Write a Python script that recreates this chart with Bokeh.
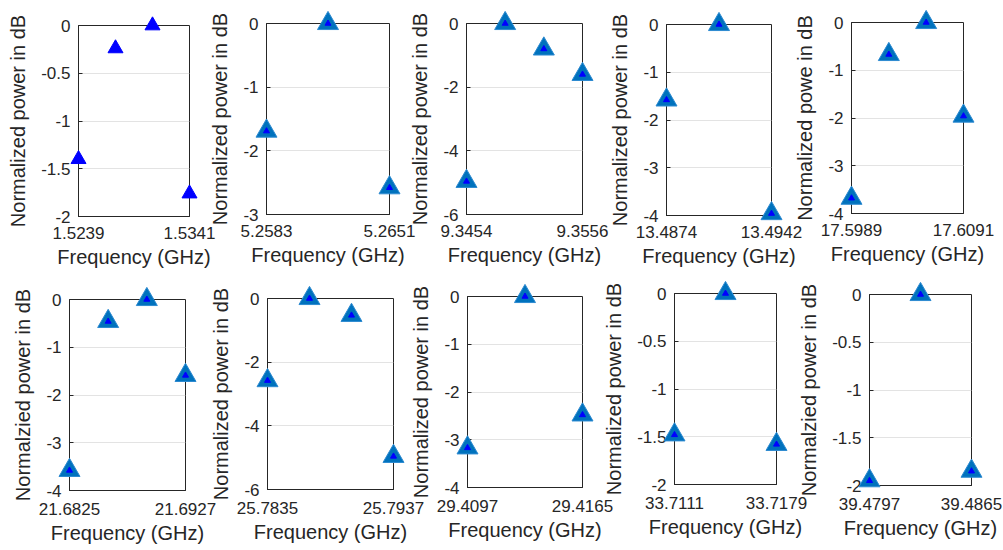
from bokeh.plotting import figure
from bokeh.layouts import row, column
from bokeh.models import FixedTicker, PrintfTickFormatter, CustomJSTickFormatter, Range1d
from bokeh.embed import file_html
from bokeh.resources import INLINE

# ---- data (frequency in GHz, normalized power in dB) ----
freq_1 = [1.5239, 1.5273, 1.5307, 1.5341]
power_1 = [-1.40, -0.24, 0.0, -1.76]
freq_2 = [5.2583, 5.2617, 5.2651]
power_2 = [-1.69, 0.0, -2.58]
freq_3 = [9.3454, 9.3488, 9.3522, 9.3556]
power_3 = [-4.96, 0.0, -0.80, -1.60]
freq_4 = [13.4874, 13.4908, 13.4942]
power_4 = [-1.58, 0.0, -3.96]
freq_5 = [17.5989, 17.6023, 17.6057, 17.6091]
power_5 = [-3.68, -0.67, 0.0, -1.96]
freq_6 = [21.6825, 21.6859, 21.6893, 21.6927]
power_6 = [-3.58, -0.46, 0.0, -1.59]
freq_7 = [25.7835, 25.7869, 25.7903, 25.7937]
power_7 = [-2.58, 0.0, -0.53, -4.96]
freq_8 = [29.4097, 29.4131, 29.4165]
power_8 = [-3.17, 0.0, -2.48]
freq_9 = [33.7111, 33.7145, 33.7179]
power_9 = [-1.48, 0.0, -1.58]
freq_10 = [39.4797, 39.4831, 39.4865]
power_10 = [-1.95, 0.0, -1.85]

y_min = [-2, -3, -6, -4, -4, -4, -6, -4, -2, -2]
y_step = [0.5, 1, 2, 1, 1, 1, 2, 1, 0.5, 0.5]
y_labels = ["Normalized power in dB", "Normalized power in dB", "Normalized power in dB",
            "Normalized power in dB", "Normalized powe in dB",
            "Normalzied power in dB", "Normalized power in dB", "Normalized power in dB",
            "Normalized power in dB", "Normalzied power in dB"]
x_label = "Frequency (GHz)"

freqs = [freq_1, freq_2, freq_3, freq_4, freq_5, freq_6, freq_7, freq_8, freq_9, freq_10]
powers = [power_1, power_2, power_3, power_4, power_5, power_6, power_7, power_8, power_9, power_10]

# layout: (width, border l, border r, margin top, margin left)
geom = [
    (225, 78, 36, 3, 0),
    (241, 82, 36, 1, -41),
    (234, 82, 36, 1, -41),
    (223, 82, 36, 2, -34),
    (234, 82, 40, 0, -38),
    (221, 69, 36, -12, 0),
    (244, 82, 36, -13, -36),
    (233, 82, 36, -15, -44),
    (220, 82, 36, -18, -26),
    (216, 82, 32, -17, -25),
]
# per row: (height, border top, border bottom, x tick standoff, x label standoff)
row_geom = [(288, 22, 75, 10, 4), (271, 20, 60, 12, 4)]

FONT = "Liberation Sans"
DARK = "#262626"


def make_panel(i):
    w, bl, br, mt, ml = geom[i]
    h, bt, bb, xs, xls = row_geom[0 if i < 5 else 1]
    fx = freqs[i]
    py = powers[i]
    p = figure(width=w, height=h, output_backend="svg", toolbar_location=None,
               title=None, margin=(mt, 0, 0, ml),
               x_range=Range1d(fx[0], fx[-1]), y_range=Range1d(y_min[i], 0),
               min_border_left=bl, min_border_right=br, min_border_top=bt,
               min_border_bottom=bb, border_fill_color=None,
               background_fill_color="white")
    p.outline_line_color = DARK
    p.outline_line_width = 1
    n = int(round(-y_min[i] / y_step[i]))
    yt = [y_min[i] + k * y_step[i] for k in range(n + 1)]
    p.yaxis.ticker = FixedTicker(ticks=yt)
    p.yaxis.formatter = CustomJSTickFormatter(code="return String(Math.round(tick*10)/10);")
    p.xaxis.ticker = FixedTicker(ticks=[fx[0], fx[-1]])
    p.xaxis.formatter = PrintfTickFormatter(format="%.4f")
    for ax in (p.xaxis, p.yaxis):
        ax.axis_line_color = DARK
        ax.major_tick_line_color = DARK
        ax.major_tick_in = 4
        ax.major_tick_out = 0
        ax.minor_tick_line_color = None
        ax.major_label_text_font = FONT
        ax.major_label_text_font_size = "17px"
        ax.major_label_text_color = DARK
        ax.axis_label_text_font = FONT
        ax.axis_label_text_font_size = "20px"
        ax.axis_label_text_font_style = "normal"
        ax.axis_label_text_color = DARK
    p.xaxis.major_label_standoff = xs
    p.xaxis.axis_label_standoff = xls
    p.yaxis.major_label_standoff = 8
    p.yaxis.axis_label_standoff = 9
    p.xaxis.axis_label = x_label
    p.yaxis.axis_label = y_labels[i]
    p.xgrid.grid_line_color = None
    p.ygrid.grid_line_color = "#E3E3E3"
    p.ygrid.grid_line_width = 1
    if i == 0:
        p.scatter(fx, py, marker="triangle", size=15, fill_color="#0000FF",
                  line_color="#0000FF", level="overlay")
    else:
        p.scatter(fx, py, marker="triangle", size=21, fill_color="#0072BD",
                  line_color="#2D8AD0", line_width=1, level="overlay")
        p.scatter(fx, py, marker="triangle", size=6, fill_color="#0000FF",
                  line_color="#0000FF", level="overlay")
    return p


panels = [make_panel(i) for i in range(10)]
layout = column(row(*panels[:5]), row(*panels[5:]))

open("out.html", "w").write(file_html(layout, INLINE))
